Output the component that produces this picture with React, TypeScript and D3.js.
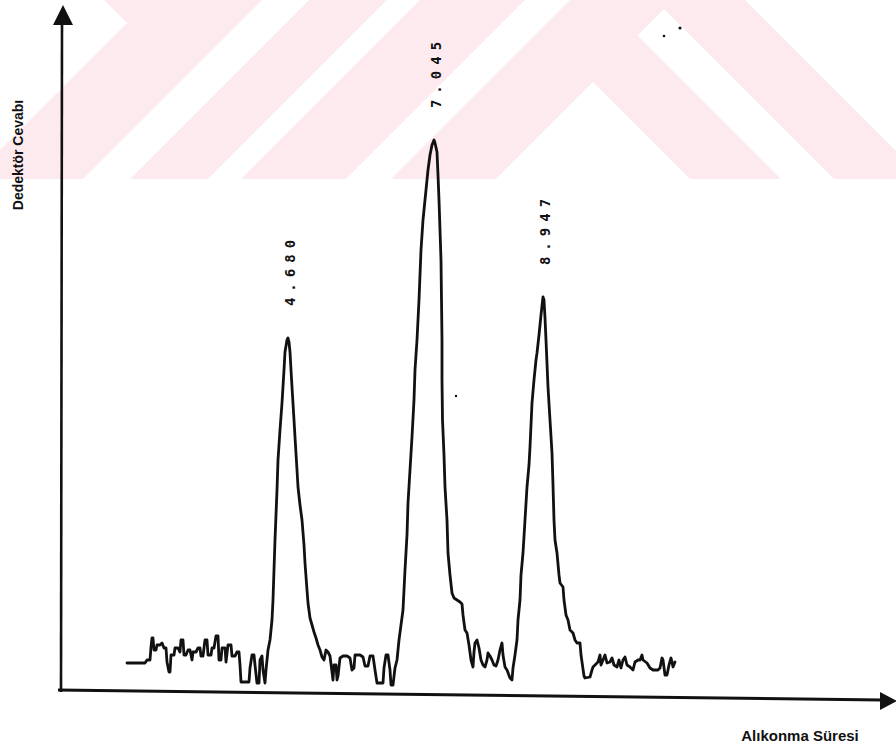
import React from 'react';
import * as d3 from 'd3';

// chromatogram trace, [time (s), detector response]
const noiseA: [number, number][] = [
  [119, 27], [137, 27], [139, 30], [142, 30], [143, 43], [144, 52], [145, 52], [146, 40], [148, 40], [149, 45],
  [152, 45], [154, 47], [156, 42], [158, 42], [159, 28], [161, 18], [162, 18], [163, 35], [166, 35], [167, 42],
  [170, 42], [172, 38], [173, 50], [175, 50], [176, 35], [178, 35], [180, 40], [182, 40], [184, 30], [185, 38],
  [188, 38], [190, 42], [192, 42], [193, 34], [195, 34], [197, 50], [199, 50], [200, 35], [203, 35], [204, 42],
  [206, 42], [208, 54], [210, 54], [211, 30], [213, 30], [214, 42], [217, 42], [218, 28], [220, 45], [223, 45],
  [224, 34], [227, 34], [229, 38], [231, 38], [232, 25], [233, 8], [241, 8], [242, 22], [244, 35], [246, 35],
  [247, 25], [249, 7], [251, 7], [252, 30], [254, 34], [255, 20], [257, 7], [258, 20], [260, 40],
];
const peakA: [number, number][] = [
  [262, 50], [264, 70], [265, 90], [267, 150], [269, 200], [270, 230], [272, 260], [274, 287], [276, 320],
  [277, 338], [279, 350], [280, 352], [281, 348], [282, 338], [283, 320], [284, 303], [286, 270], [287, 253],
  [289, 220], [290, 203], [292, 185], [294, 170], [296, 145], [297, 127], [299, 100], [300, 87], [302, 72],
  [304, 65], [306, 58], [308, 52], [310, 45], [312, 40],
];
const noiseB: [number, number][] = [
  [314, 33], [316, 30], [318, 40], [320, 38], [322, 34], [324, 18], [325, 10], [326, 25], [328, 25], [329, 10],
  [330, 14], [332, 32], [335, 34], [339, 34], [342, 32], [344, 20], [346, 22], [347, 35], [352, 35], [355, 33],
  [357, 24], [360, 24], [362, 34], [365, 34], [367, 20], [369, 7], [375, 7], [376, 22], [378, 35], [380, 35],
  [382, 20], [383, 5], [385, 5], [387, 22], [389, 30], [391, 50], [393, 65],
];
const peakB: [number, number][] = [
  [395, 80], [397, 120], [399, 155], [400, 187], [402, 220], [404, 253], [406, 290], [407, 320], [409, 350],
  [410, 370], [411, 390], [413, 440], [415, 470], [417, 490], [420, 520], [422, 535], [424, 545], [426, 550],
  [427, 547], [429, 538], [430, 515], [431, 490], [432, 460], [433, 430], [433.5, 390], [434, 350], [434, 310],
  [434.5, 270], [436, 235], [437, 203], [439, 170], [440, 137], [442, 115], [444, 97], [446, 92], [449, 90],
  [452, 88], [454, 86], [455, 75], [457, 60],
];
const noiseC: [number, number][] = [
  [459, 57], [461, 45], [463, 30], [465, 23], [466, 38], [467, 47], [469, 50], [471, 42], [473, 30], [475, 25],
  [477, 23], [479, 30], [480, 37], [482, 34], [484, 30], [486, 25], [488, 24], [490, 30], [492, 40], [494, 47],
  [495, 35], [497, 23], [499, 20], [502, 12], [504, 10], [505, 22], [507, 35], [509, 50],
];
const peakC: [number, number][] = [
  [510, 70], [512, 90], [513, 115], [515, 137], [517, 170], [519, 203], [521, 225], [522, 243], [523, 265],
  [524, 287], [526, 310], [528, 330], [529, 337], [531, 355], [533, 375], [535, 393], [536, 390], [537, 372],
  [538, 350], [540, 303], [542, 270], [544, 237], [545, 205], [546, 170], [547, 150], [549, 137], [551, 115],
  [552, 107], [555, 103], [556, 90], [558, 75], [560, 70],
];
const noiseD: [number, number][] = [
  [562, 60], [565, 57], [567, 50], [569, 47], [572, 47], [573, 35], [574, 28], [576, 14], [577, 12], [582, 13],
  [584, 20], [585, 23], [588, 26], [590, 28], [592, 35], [593, 25], [595, 30], [597, 35], [599, 27], [602, 28],
  [604, 32], [606, 25], [609, 23], [611, 30], [613, 22], [615, 30], [617, 33], [619, 25], [622, 23], [625, 20],
  [627, 28], [630, 30], [632, 30], [634, 35], [635, 30], [639, 27], [642, 22], [645, 20], [650, 20], [652, 22],
  [654, 32], [655, 30], [657, 15], [659, 15], [661, 25], [663, 32], [664, 28], [665, 23], [667, 28],
];

// retention times printed above the peaks (min)
const peakTimes = [4.68, 7.045, 8.947];
const peakLabels = ['4.680', '7.045', '8.947'];

const yAxisTitle = 'Dedektör Cevabı';
const xAxisTitle = 'Alıkonma Süresi';

const W = 896;
const H = 747;

const trace = [...noiseA, ...peakA, ...noiseB, ...peakB, ...noiseC, ...peakC, ...noiseD];

const App = () => {
  const x = d3.scaleLinear().domain([0, 900]).range([8, 908]);
  const y = d3.scaleLinear().domain([0, 680]).range([690, 10]);

  const line = d3
    .line<[number, number]>()
    .x((d) => x(d[0]))
    .y((d) => y(d[1]));

  // place each label over the apex of its peak
  const apexes = peakTimes.map((t) => {
    const near = trace.filter((d) => Math.abs(d[0] - t * 60) < 15);
    return near.reduce((a, b) => (b[1] > a[1] ? b : a));
  });

  const pink = '#fdeaee';
  const mono = "'DejaVu Sans Mono', monospace";
  const sans = "'Liberation Sans', Arial, sans-serif";

  return (
    <svg
      width={W}
      height={H}
      style={{ position: 'absolute', left: 0, top: 0, background: '#fff' }}
    >
      {/* faint watermark in the top band */}
      <g>
        <rect x={0} y={0} width={W} height={179} fill={pink} />
        <polygon points="0,0 104,0 127,23 0,150" fill="#fff" />
        <polygon points="262,0 309,0 130,179 83,179" fill="#fff" />
        <polygon points="387,0 420,0 241,179 208,179" fill="#fff" />
        <polygon points="525,0 570,0 391,179 346,179" fill="#fff" />
        <polygon points="593,82 690,179 496,179" fill="#fff" />
        <polygon points="637.5,35.5 664,9 834,179 781,179" fill="#fff" />
        <polygon points="745,0 896,0 896,151" fill="#fff" />
      </g>

      {/* axes */}
      <line x1={61} y1={692} x2={62} y2={22} stroke="#111" strokeWidth={2.6} />
      <polygon points="63,5 53,25 73,25" fill="#111" />
      <line x1={58} y1={690} x2={882} y2={700} stroke="#111" strokeWidth={3} />
      <polygon points="897,701 880,692 880,710" fill="#111" />

      <text
        transform={`translate(18, 155) rotate(-90)`}
        textAnchor="middle"
        dominantBaseline="central"
        fontFamily={sans}
        fontWeight="bold"
        fontSize={14}
        fill="#111"
      >
        {yAxisTitle}
      </text>
      <text
        x={800}
        y={741}
        textAnchor="middle"
        fontFamily={sans}
        fontWeight="bold"
        fontSize={15}
        fill="#111"
      >
        {xAxisTitle}
      </text>

      {/* chromatogram */}
      <path
        d={line(trace) || ''}
        fill="none"
        stroke="#111"
        strokeWidth={2.8}
        strokeLinejoin="round"
        strokeLinecap="round"
      />

      {peakLabels.map((lab, i) => (
        <text
          key={lab}
          transform={`translate(${x(apexes[i][0]) + 2}, ${y(apexes[i][1]) - 68}) rotate(-90)`}
          textAnchor="middle"
          dominantBaseline="central"
          fontFamily={mono}
          fontWeight="bold"
          fontSize={14}
          letterSpacing={6}
          fill="#111"
        >
          {lab}
        </text>
      ))}

      {/* scan specks */}
      <circle cx={456} cy={396} r={1.2} fill="#111" />
      <circle cx={664} cy={36} r={1.3} fill="#111" />
      <circle cx={680} cy={28} r={1.6} fill="#111" />
    </svg>
  );
};

export default App;
